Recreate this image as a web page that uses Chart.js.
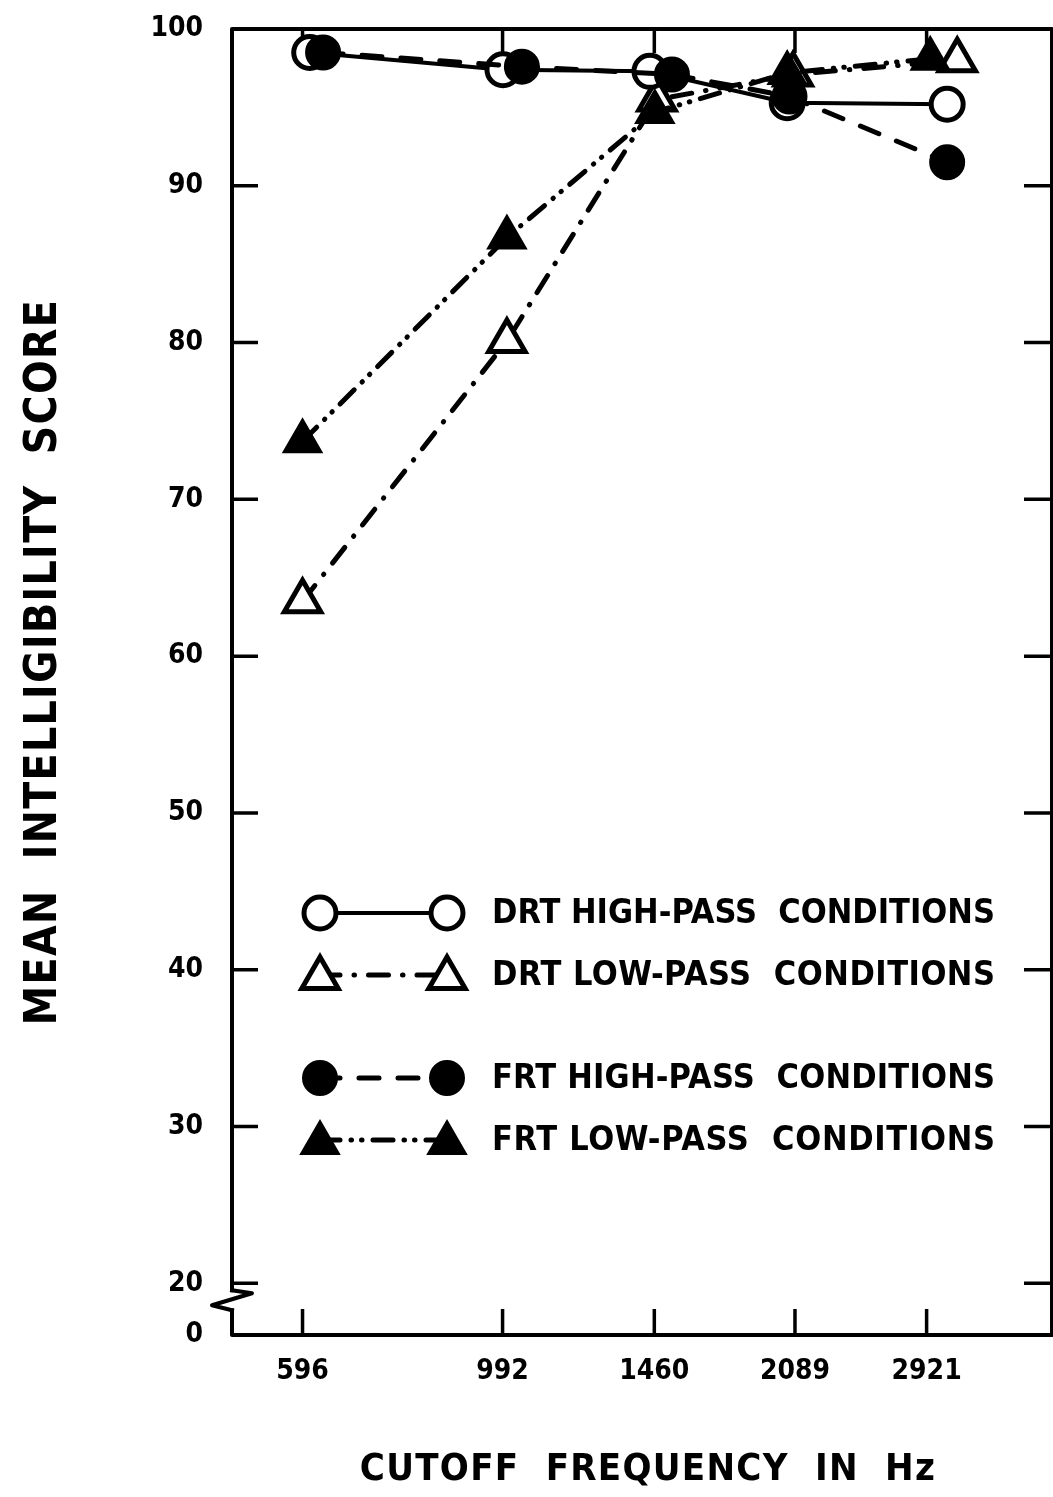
<!DOCTYPE html>
<html>
<head>
<meta charset="utf-8">
<title>Mean intelligibility score vs cutoff frequency</title>
<script src="https://cdn.jsdelivr.net/npm/chart.js@4.4.1/dist/chart.umd.min.js"></script>
<style>
    html, body { margin: 0; padding: 0; background: #fff; }
    #wrap { width: 1053px; height: 1497px; position: relative; }
</style>
</head>
<body>
<div id="wrap"><canvas id="chart"></canvas></div>
<script>
/* ============================================================
   DATA
============================================================ */
const tickFreqs = [596, 992, 1460, 2089, 2921];
const tickLabels = ['596', '992', '1460', '2089', '2921'];
const yTickValues = [20, 30, 40, 50, 60, 70, 80, 90, 100];
const yAxisBottom = 16.7; // broken axis, bottom is labelled 0

// points sit a little off the nominal frequencies in the original, so x is read per series
const drtHighX = [607, 993, 1444, 2048, 3078];
const drtHighY = [98.5, 97.4, 97.3, 95.3, 95.2];
const drtLowX = [596, 1003, 1470, 2079, 3158];
const drtLowY = [63.5, 80.1, 95.5, 97.1, 98.0];
const frtHighX = [628, 1042, 1527, 2060, 3078];
const frtHighY = [98.5, 97.6, 97.1, 95.7, 91.5];
const frtLowX = [596, 1003, 1462, 2048, 2948];
const frtLowY = [73.7, 86.7, 94.7, 97.2, 98.1];

const seriesNames = [
    'DRT HIGH-PASS  CONDITIONS',
    'DRT LOW-PASS  CONDITIONS',
    'FRT HIGH-PASS  CONDITIONS',
    'FRT LOW-PASS  CONDITIONS'
];

const FONT = '"DejaVu Sans Condensed", "DejaVu Sans", sans-serif';
const pts = (xs, ys) => xs.map((x, i) => ({ x: x, y: ys[i] }));

/* -------------------------
   DATASET STYLES
--------------------------*/
const drtHigh = {
    label: seriesNames[0], data: pts(drtHighX, drtHighY),
    borderColor: '#000', borderWidth: 4, borderCapStyle: 'round',
    pointStyle: 'circle', pointRadius: 16, pointBorderWidth: 5,
    pointBackgroundColor: '#fff', pointBorderColor: '#000'
};
const drtLow = {
    label: seriesNames[1], data: pts(drtLowX, drtLowY),
    borderColor: '#000', borderWidth: 5, borderCapStyle: 'round', borderDash: [20, 14, 0.5, 14],
    pointStyle: 'triangle', pointRadius: 21, pointBorderWidth: 5,
    pointBackgroundColor: '#fff', pointBorderColor: '#000'
};
const frtHigh = {
    label: seriesNames[2], data: pts(frtHighX, frtHighY),
    borderColor: '#000', borderWidth: 5, borderCapStyle: 'round', borderDash: [20, 19],
    pointStyle: 'circle', pointRadius: 17, pointBorderWidth: 2,
    pointBackgroundColor: '#000', pointBorderColor: '#000'
};
const frtLow = {
    label: seriesNames[3], data: pts(frtLowX, frtLowY),
    borderColor: '#000', borderWidth: 5, borderCapStyle: 'round', borderDash: [20, 11, 0.5, 10, 0.5, 11],
    pointStyle: 'triangle', pointRadius: 22, pointBorderWidth: 2,
    pointBackgroundColor: '#000', pointBorderColor: '#000'
};

// spread text out to a given width (old lettering-guide look)
function drawSpaced(ctx, text, x, y, target) {
    ctx.letterSpacing = '0px';
    const w = ctx.measureText(text).width;
    const sp = Math.max(0, (target - w) / (text.length - 1));
    ctx.letterSpacing = sp + 'px';
    ctx.fillText(text, x, y);
    ctx.letterSpacing = '0px';
}

/* -------------------------
   FRAME, INWARD TICKS, AXIS BREAK
--------------------------*/
const framePlugin = {
    id: 'frame',
    beforeDatasetsDraw(chart) {
        const { ctx, chartArea: a, scales: { x, y } } = chart;
        const y20 = y.getPixelForValue(20);
        ctx.save();
        ctx.strokeStyle = '#000';
        ctx.lineWidth = 4;
        ctx.lineCap = 'square';
        ctx.lineJoin = 'round';

        ctx.beginPath();
        ctx.moveTo(a.left, y20 + 7);
        ctx.lineTo(a.left, a.top);
        ctx.lineTo(a.right, a.top);
        ctx.lineTo(a.right, a.bottom);
        ctx.lineTo(a.left, a.bottom);
        ctx.lineTo(a.left, y20 + 27);
        ctx.stroke();

        // zigzag break between 20 and 0
        ctx.beginPath();
        ctx.moveTo(a.left, y20 + 7);
        ctx.lineTo(a.left + 20, y20 + 10);
        ctx.lineTo(a.left - 20, y20 + 22);
        ctx.lineTo(a.left, y20 + 27);
        ctx.stroke();

        ctx.lineWidth = 3.5;
        ctx.lineCap = 'butt';
        tickFreqs.forEach(v => {
            const px = x.getPixelForValue(v);
            ctx.beginPath();
            ctx.moveTo(px, a.bottom); ctx.lineTo(px, a.bottom - 26);
            ctx.moveTo(px, a.top); ctx.lineTo(px, a.top + 24);
            ctx.stroke();
        });
        yTickValues.slice(0, -1).forEach(v => {
            const py = y.getPixelForValue(v);
            ctx.beginPath();
            ctx.moveTo(a.left, py); ctx.lineTo(a.left + 26, py);
            ctx.moveTo(a.right, py); ctx.lineTo(a.right - 28, py);
            ctx.stroke();
        });
        ctx.restore();
    }
};

/* -------------------------
   LEGEND + AXIS TITLES
--------------------------*/
const legendRows = [913, 975, 1078, 1140];
const legendPlugin = {
    id: 'boxLegend',
    afterDraw(chart) {
        const ctx = chart.ctx;
        const x0 = 320, x1 = 447, tx = 492;
        ctx.save();
        chart.data.datasets.forEach(ds => {
            const row = seriesNames.indexOf(ds.label);
            const ry = legendRows[row];
            ctx.strokeStyle = '#000';
            ctx.lineWidth = ds.borderWidth;
            ctx.lineCap = 'round';
            ctx.setLineDash(ds.borderDash || []);
            ctx.beginPath();
            ctx.moveTo(x0, ry); ctx.lineTo(x1, ry);
            ctx.stroke();
            ctx.setLineDash([]);

            const yOff = ds.pointStyle === 'triangle' ? 3 : 0;
            ctx.fillStyle = ds.pointBackgroundColor;
            ctx.lineWidth = ds.pointBorderWidth;
            const opts = { pointStyle: ds.pointStyle, radius: ds.pointRadius, rotation: 0, borderWidth: ds.pointBorderWidth };
            Chart.helpers.drawPoint(ctx, opts, x0, ry + yOff);
            Chart.helpers.drawPoint(ctx, opts, x1, ry + yOff);

            ctx.fillStyle = '#000';
            ctx.font = 'bold 34px ' + FONT;
            ctx.textAlign = 'left';
            ctx.textBaseline = 'middle';
            drawSpaced(ctx, ds.label, tx, ry + 1, 503);
        });

        // axis titles
        ctx.fillStyle = '#000';
        ctx.textAlign = 'center';
        ctx.textBaseline = 'middle';
        ctx.font = 'bold 44px ' + FONT;
        ctx.save();
        ctx.translate(45, 662);
        ctx.rotate(-Math.PI / 2);
        drawSpaced(ctx, 'MEAN  INTELLIGIBILITY  SCORE', 0, 0, 725);
        ctx.restore();

        ctx.font = 'bold 38px ' + FONT;
        drawSpaced(ctx, 'CUTOFF  FREQUENCY  IN  Hz', 648, 1470, 575);
        ctx.restore();
    }
};

/* -------------------------
   CHART
--------------------------*/
const tickFont = { family: FONT, size: 28, weight: 'bold' };
const noPad = (s) => { s.paddingTop = 0; s.paddingBottom = 0; s.paddingLeft = 0; s.paddingRight = 0; };

new Chart(document.getElementById('chart'), {
    type: 'line',
    // first dataset is drawn on top: filled symbols cover the open ones
    data: { datasets: [frtHigh, frtLow, drtHigh, drtLow] },
    plugins: [framePlugin, legendPlugin],
    options: {
        responsive: true,
        maintainAspectRatio: false,
        animation: false,
        events: [],
        layout: { autoPadding: false, padding: { top: 29, right: 1, left: 0, bottom: 0 } },
        datasets: { line: { clip: false, tension: 0, fill: false } },
        plugins: { legend: { display: false }, tooltip: { enabled: false } },
        scales: {
            x: {
                type: 'logarithmic',
                min: 498,
                max: 4020,
                afterBuildTicks: (s) => { s.ticks = tickFreqs.map(v => ({ value: v })); },
                afterFit: (s) => { s.height = 162; noPad(s); },
                grid: { display: false, drawTicks: false },
                border: { display: false },
                ticks: {
                    color: '#000',
                    font: tickFont,
                    padding: 20,
                    maxRotation: 0,
                    autoSkip: false,
                    callback: (v) => tickLabels[tickFreqs.indexOf(v)]
                }
            },
            y: {
                type: 'linear',
                min: yAxisBottom,
                max: 100,
                afterBuildTicks: (s) => { s.ticks = [yAxisBottom].concat(yTickValues).map(v => ({ value: v })); },
                afterFit: (s) => { s.width = 232; noPad(s); },
                grid: { display: false, drawTicks: false },
                border: { display: false },
                ticks: {
                    color: '#000',
                    font: tickFont,
                    padding: 29,
                    autoSkip: false,
                    callback: (v) => v === yAxisBottom ? '0' : String(v)
                }
            }
        }
    }
});
</script>
</body>
</html>
